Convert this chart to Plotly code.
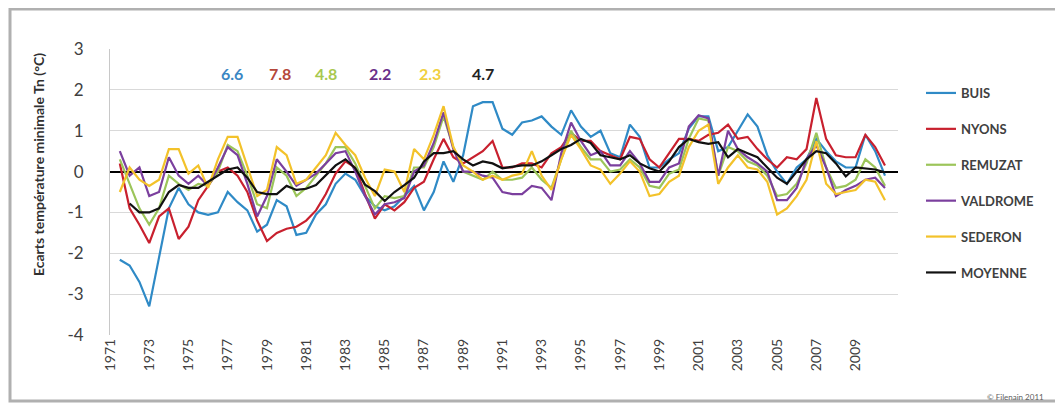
import plotly.graph_objects as go

# ---------------- data ----------------
stations = ["BUIS", "NYONS", "REMUZAT", "VALDROME", "SEDERON", "MOYENNE"]
colors = ["#2f8ac6", "#c8202e", "#9cc55a", "#7b3f9e", "#f3c22a", "#111111"]

years_st = [1971.5 + 0.5 * i for i in range(79)]   # half-year sampling
years_moy = [1972.0 + 0.5 * i for i in range(78)]

buis = [-2.16, -2.3, -2.7, -3.3, -2.1, -0.9, -0.4, -0.8, -1.0, -1.06,
        -1.0, -0.5, -0.75, -0.95, -1.47, -1.3, -0.7, -0.85, -1.55, -1.5,
        -1.05, -0.8, -0.3, -0.05, -0.2, -0.6, -0.85, -0.95, -0.85, -0.6,
        -0.35, -0.95, -0.5, 0.25, -0.25, 0.4, 1.6, 1.7, 1.7,
        1.05, 0.9, 1.2, 1.25, 1.35, 1.1, 0.9, 1.5, 1.1, 0.85,
        1.0, 0.45, 0.35, 1.15, 0.85, 0.1, 0.1, 0.3, 0.45, 1.05,
        1.35, 1.35, 0.5, 0.6, 1.0, 1.4, 1.1, 0.4, 0.0, -0.3,
        0.1, 0.3, 0.8, 0.5, 0.25, 0.1, 0.1, 0.9, 0.5, -0.1]

nyons = [0.2, -0.9, -1.3, -1.75, -1.1, -0.9, -1.65, -1.35, -0.7, -0.35,
         0.0, 0.1, -0.1, -0.5, -1.2, -1.7, -1.5, -1.4, -1.35, -1.2,
         -0.95, -0.55, -0.05, 0.25, 0.1, -0.55, -1.15, -0.8, -0.95, -0.75,
         -0.4, -0.25, 0.3, 0.8, 0.35, 0.2, 0.35, 0.5, 0.75,
         0.1, 0.1, 0.2, 0.2, 0.1, 0.45, 0.6, 0.95, 0.75, 0.75,
         0.5, 0.4, 0.3, 0.85, 0.8, 0.3, 0.1, 0.45, 0.8, 0.8,
         0.75, 0.9, 0.95, 1.15, 0.8, 0.85, 0.55, 0.3, 0.1, 0.35,
         0.3, 0.55, 1.8, 0.8, 0.4, 0.35, 0.35, 0.9, 0.6, 0.15]

remuzat = [0.3, -0.3, -0.9, -1.3, -0.9, -0.1, -0.3, -0.45, -0.3, -0.35,
           0.0, 0.65, 0.5, -0.1, -0.8, -0.9, 0.1, -0.1, -0.6, -0.4,
           -0.1, 0.2, 0.6, 0.6, 0.2, -0.35, -0.9, -0.6, -0.65, -0.6,
           0.1, 0.1, 0.6, 1.35, 0.6, 0.0, -0.1, -0.2, 0.0,
           -0.2, -0.2, -0.15, 0.1, -0.2, -0.4, 0.3, 1.0, 0.6, 0.3,
           0.3, 0.0, 0.05, 0.3, 0.1, -0.35, -0.4, -0.05, 0.05, 0.8,
           1.3, 1.25, -0.1, 0.6, 0.5, 0.25, 0.15, -0.1, -0.6, -0.55,
           -0.3, 0.2, 0.95, 0.1, -0.4, -0.35, -0.2, 0.3, 0.1, -0.35]

valdrome = [0.5, -0.1, 0.1, -0.6, -0.5, 0.35, -0.1, -0.3, -0.1, -0.35,
            0.1, 0.6, 0.4, -0.3, -1.1, -0.6, 0.3, 0.0, -0.35, -0.2,
            -0.05, 0.2, 0.45, 0.5, 0.0, -0.6, -1.05, -0.8, -0.75, -0.65,
            0.0, 0.15, 0.7, 1.45, 0.55, 0.0, 0.0, -0.1, -0.15,
            -0.5, -0.55, -0.55, -0.35, -0.4, -0.7, 0.45, 1.2, 0.75, 0.4,
            0.5, 0.15, 0.15, 0.5, 0.2, -0.25, -0.25, 0.1, 0.2, 1.1,
            1.38, 1.3, -0.1, 1.0, 0.55, 0.35, 0.2, 0.0, -0.7, -0.7,
            -0.4, 0.3, 0.65, 0.1, -0.6, -0.45, -0.35, -0.2, -0.15, -0.4]

sederon = [-0.5, 0.1, -0.2, -0.35, -0.2, 0.55, 0.55, -0.05, 0.15, -0.4,
           0.3, 0.85, 0.85, 0.15, -0.6, -0.45, 0.6, 0.4, -0.3, -0.2,
           0.1, 0.4, 0.95, 0.65, 0.4, -0.15, -0.6, 0.05, 0.0, -0.5,
           0.55, 0.3, 0.9, 1.6, 0.6, 0.15, 0.0, -0.2, -0.1,
           -0.2, -0.1, -0.05, 0.5, -0.1, -0.45, 0.3, 0.9, 0.55, 0.15,
           0.05, -0.3, -0.05, 0.25, 0.0, -0.6, -0.55, -0.25, -0.1, 0.6,
           1.0, 1.15, -0.3, 0.1, 0.4, 0.1, 0.05, -0.25, -1.05, -0.9,
           -0.6, -0.2, 0.75, -0.3, -0.55, -0.5, -0.45, -0.2, -0.25, -0.7]

moyenne = [-0.78, -1.0, -1.0, -0.9, -0.5, -0.33, -0.4, -0.4, -0.25,
           -0.1, 0.05, 0.1, -0.15, -0.5, -0.55, -0.55, -0.35, -0.45, -0.42,
           -0.33, -0.1, 0.15, 0.3, 0.08, -0.32, -0.48, -0.72, -0.5, -0.33,
           -0.15, 0.25, 0.45, 0.45, 0.5, 0.3, 0.15, 0.25, 0.2,
           0.08, 0.12, 0.15, 0.15, 0.25, 0.4, 0.55, 0.65, 0.8, 0.7,
           0.4, 0.35, 0.3, 0.4, 0.2, 0.08, 0.0, 0.25, 0.6, 0.8,
           0.72, 0.68, 0.72, 0.35, 0.55, 0.45, 0.35, 0.1, -0.15, -0.3,
           0.0, 0.3, 0.5, 0.45, 0.2, -0.12, 0.1, 0.08, 0.05, -0.02]

series = [buis, nyons, remuzat, valdrome, sederon, moyenne]

stat_values = ["6.6", "7.8", "4.8", "2.2", "2.3", "4.7"]
stat_colors = ["#3b87c4", "#b5473a", "#a8c84e", "#6a2f8a", "#f0d040", "#222222"]

tick_years = list(range(1971, 2011, 2))
tick_labels = [str(y) for y in tick_years]
y_ticks = list(range(-4, 4))
y_tick_labels = [str(v) for v in y_ticks]   # plain hyphen minus as in Excel

# ---------------- layout geometry (page pixels) ----------------
OFF = 8                      # default page body margin
W, H = 1063 - OFF, 403 - OFF
L, R, T, B = 110, 898, 49, 335   # plot area in page pixels


def px(x):
    return (x - L) / (R - L)


def py(y):
    return (B - y) / (B - T)


fig = go.Figure()
for name, col, vals in zip(stations, colors, series):
    xs = years_moy if name == "MOYENNE" else years_st
    fig.add_trace(go.Scatter(
        x=xs, y=vals, mode="lines", name=name, legendgroup=name,
        line=dict(color=col, width=2.2), hoverinfo="skip"))

font_fam = "Lato, 'Open Sans', sans-serif"

fig.update_layout(
    width=W, height=H,
    margin=dict(l=L - OFF, r=W - (R - OFF), t=T - OFF, b=H - (B - OFF), pad=0),
    paper_bgcolor="white", plot_bgcolor="white",
    showlegend=True,
    legend=dict(x=px(921), xanchor="left",
                y=py(78), yanchor="top",
                tracegroupgap=16, bgcolor="rgba(0,0,0,0)",
                font=dict(family=font_fam, size=13, color="#404040", weight="bold"),
                itemwidth=30),
    xaxis=dict(range=[1971, 1971 + (R - L) / 19.62], tickmode="array",
               tickvals=tick_years, ticktext=tick_labels, tickangle=-90,
               showgrid=False, zeroline=False, showline=False, ticks="",
               tickfont=dict(family=font_fam, size=14, color="#404040")),
    yaxis=dict(range=[-4, 3], tickmode="array", tickvals=y_ticks,
               ticktext=y_tick_labels,
               showgrid=True, gridcolor="#d9d9d9", gridwidth=1,
               zeroline=True, zerolinecolor="#000000", zerolinewidth=2,
               showline=True, linecolor="#c8c8c8", linewidth=1, ticks="",
               ticklabelstandoff=22,
               tickfont=dict(family=font_fam, size=17, color="#404040")),
)

# y axis title
fig.add_annotation(xref="paper", yref="paper", x=px(38), y=py(165),
                   xanchor="center", yanchor="middle",
                   text="Ecarts température minimale Tn (°C)", textangle=-90,
                   showarrow=False,
                   font=dict(family=font_fam, size=14, color="#303030", weight="bold"))

# station statistics labels
stat_px = [232, 280, 326, 380, 430, 483]
for v, c, sx in zip(stat_values, stat_colors, stat_px):
    fig.add_annotation(xref="paper", yref="paper", x=px(sx), y=py(73),
                       xanchor="center", yanchor="middle",
                       text=v, showarrow=False,
                       font=dict(family=font_fam, size=16, color=c, weight="bold"))

# copyright
fig.add_annotation(xref="paper", yref="paper", x=px(1046), y=py(397),
                   xanchor="right", yanchor="middle",
                   text="© Filenain 2011", showarrow=False,
                   font=dict(family=font_fam, size=8, color="#606060"))

# outer chart frame
fig.add_shape(type="rect", xref="paper", yref="paper",
              x0=px(10), x1=px(1058), y0=py(401), y1=py(9),
              line=dict(color="#b0b0b0", width=3))

fig.write_html("out.html")
